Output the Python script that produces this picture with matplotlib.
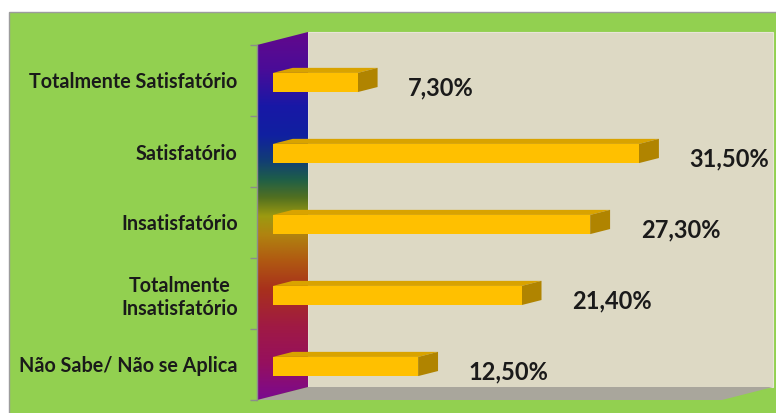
import numpy as np
import matplotlib.pyplot as plt
from matplotlib.colors import LinearSegmentedColormap
from matplotlib.patches import Polygon, Rectangle

categories = ["Totalmente Satisfatório", "Satisfatório", "Insatisfatório",
              "Totalmente\nInsatisfatório", "Não Sabe/ Não se Aplica"]
values = [7.3, 31.5, 27.3, 21.4, 12.5]
value_labels = ["7,30%", "31,50%", "27,30%", "21,40%", "12,50%"]
x_max = 40

W, H = 776, 413
plt.rcParams['font.family'] = ['Lato', 'DejaVu Sans']

fig = plt.figure(figsize=(W / 100, H / 100), dpi=100)
fig.patch.set_facecolor('white')

# green chart area with a thin grey frame
fig.add_artist(Rectangle((9 / W, -0.01), 1.0, (H - 12) / H + 0.01,
                         transform=fig.transFigure, facecolor='#92D050',
                         edgecolor='#9C9C9C', lw=1.0, zorder=0))

ax = fig.add_axes([257 / W, 13 / H, 465 / W, 355 / H])
ax.patch.set_alpha(0)

n = len(categories)
ypos = np.arange(n)[::-1].astype(float)

# depth of the 3d box in data units
DX, DY = 4.39, 0.183
d0, d1 = 0.31, 0.70          # bar front / back depth inside the box
bar_h = 0.27
bar_shift = -0.085

# back wall and floor
ax.add_patch(Rectangle((DX, -0.5 + DY), x_max, n, facecolor='#DDD9C4',
                       edgecolor='#E8E5D8', lw=0.8, zorder=1, clip_on=False))
ax.add_patch(Polygon([(0, -0.5), (x_max, -0.5), (x_max + DX, -0.5 + DY), (DX, -0.5 + DY)],
                     closed=True, facecolor='#A9A69C', edgecolor='none', zorder=1, clip_on=False))

# left wall with a rainbow gradient
wall = Polygon([(0, -0.5), (0, n - 0.5), (DX, n - 0.5 + DY), (DX, -0.5 + DY)],
               closed=True, facecolor='none', edgecolor='none', zorder=2, clip_on=False)
ax.add_patch(wall)
wall_cmap = LinearSegmentedColormap.from_list('wall', [
    (0.00, '#62088C'), (0.10, '#4A0C98'), (0.20, '#1818A6'), (0.28, '#1020A0'),
    (0.35, '#123E74'), (0.40, '#1E5E48'), (0.45, '#527020'), (0.50, '#9C9A10'),
    (0.55, '#B08410'), (0.62, '#B05A12'), (0.70, '#A8301C'), (0.80, '#A01A44'),
    (0.90, '#96105E'), (1.00, '#7A0A90')])
grad = np.linspace(0, 1, 256).reshape(-1, 1)
im = ax.imshow(grad, extent=(0, DX, -0.5, n - 0.5 + DY), aspect='auto',
               cmap=wall_cmap, origin='upper', zorder=2, interpolation='bilinear')
im.set_clip_box(fig.bbox)
im.set_clip_path(wall)
ax.plot([0, 0], [-0.5, n - 0.5], color='#8C8C8C', lw=1.0, zorder=2, clip_on=False)

# bars: front face, top face, side face
x0 = d0 * DX
yc = ypos + bar_shift + d0 * DY
bdx, bdy = (d1 - d0) * DX, (d1 - d0) * DY
ax.barh(yc, values, left=x0, height=bar_h, color='#FFC000', zorder=4)
for v, y in zip(values, yc):
    x1 = x0 + v
    top = y + bar_h / 2
    bot = y - bar_h / 2
    ax.add_patch(Polygon([(x0, top), (x1, top), (x1 + bdx, top + bdy), (x0 + bdx, top + bdy)],
                         closed=True, facecolor='#D9A300', edgecolor='none', zorder=3))
    ax.add_patch(Polygon([(x1, bot), (x1, top), (x1 + bdx, top + bdy), (x1 + bdx, bot + bdy)],
                         closed=True, facecolor='#B08400', edgecolor='none', zorder=3))

# value labels
for v, y, lbl in zip(values, ypos, value_labels):
    ax.text(v + 5.7, y - 0.11, lbl, ha='left', va='center', fontsize=17,
            fontweight='bold', color='#1A1A1A', zorder=5)

ax.set_xlim(0, x_max)
ax.set_ylim(-0.5, n - 0.5)
for s in ax.spines.values():
    s.set_visible(False)
ax.set_xticks([])
ax.set_yticks(ypos)
ax.set_yticklabels(categories, fontsize=14.2, fontweight='bold', color='#1A1A1A')
for t in ax.get_yticklabels():
    t.set_multialignment('center')
ax.set_yticks(np.arange(-0.5, n, 1.0), minor=True)
ax.tick_params(axis='y', which='major', length=0, pad=14)
ax.tick_params(axis='y', which='minor', length=5, color='#8C8C8C', width=1)

fig.savefig('out.png', dpi=100, facecolor='white')
